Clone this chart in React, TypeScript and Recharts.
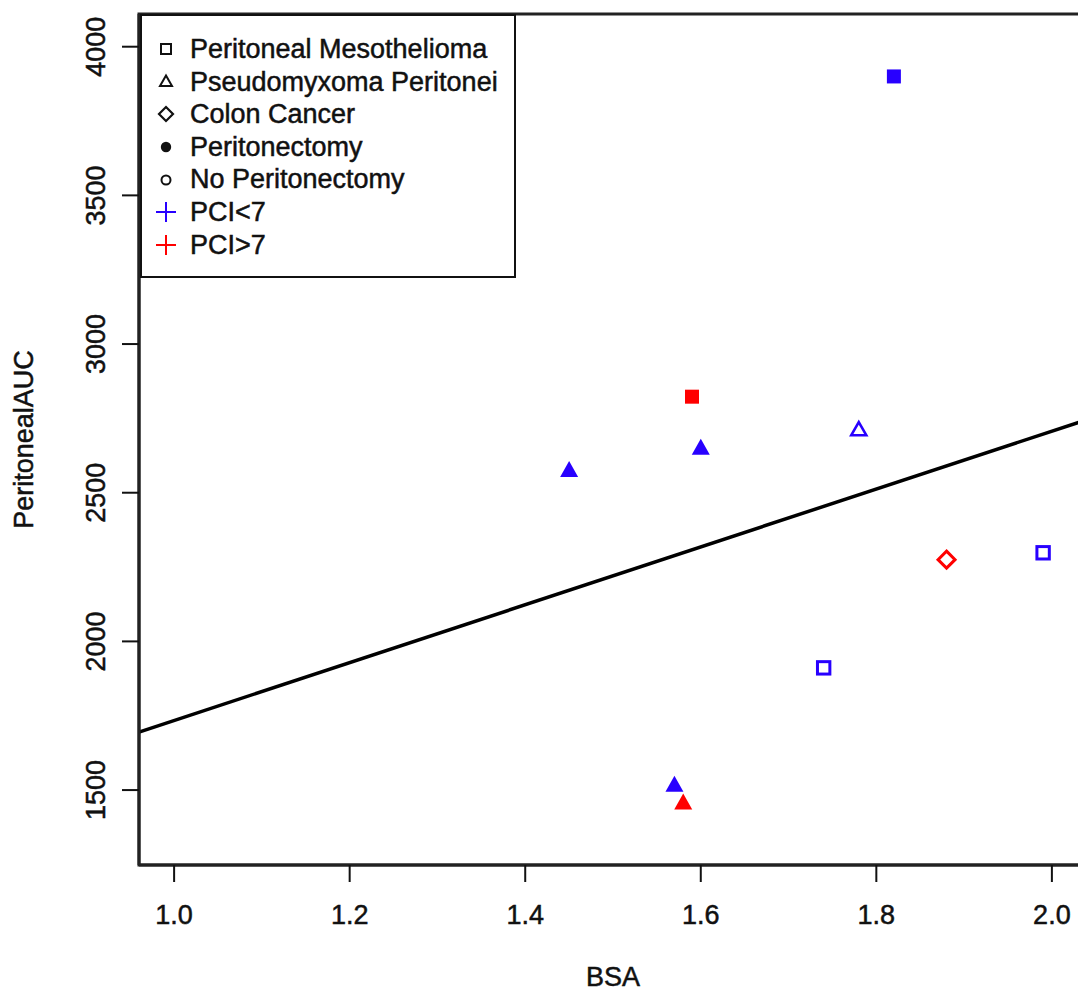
import { ScatterChart, Scatter, XAxis, YAxis, ReferenceLine, ReferenceArea, Legend, Label } from "recharts";

// one entry per patient
const bsa = [1.82, 1.59, 1.45, 1.6, 1.78, 1.99, 1.88, 1.74, 1.57, 1.58];
const auc = [3900, 2823, 2571, 2646, 2708, 2298, 2275, 1911, 1512, 1453];
const diagnosis = ["PM", "PM", "PMP", "PMP", "PMP", "PM", "CC", "PM", "PMP", "PMP"];
const peritonectomy = [true, true, true, true, false, false, false, false, true, true];
const pci = ["<7", ">7", "<7", "<7", "<7", "<7", ">7", "<7", "<7", ">7"];

// fitted regression line, read at the plot edges
const fitX = [0.96, 2.04];
const fitY = [1695, 2746];

const xTicks = [1.0, 1.2, 1.4, 1.6, 1.8, 2.0];
const yTicks = [1500, 2000, 2500, 3000, 3500, 4000];
const xDomain = [0.96, 2.04];
const yDomain = [1248, 4110];

const legendLabels = [
  "Peritoneal Mesothelioma",
  "Pseudomyxoma Peritonei",
  "Colon Cancer",
  "Peritonectomy",
  "No Peritonectomy",
  "PCI<7",
  "PCI>7",
];
const legendSymbols = ["square", "triangle", "diamond", "dot", "circle", "plusBlue", "plusRed"];

const BLUE = "#2800ff";
const RED = "#ff0000";
const FONT = "'Liberation Sans', Arial, Helvetica, sans-serif";
const INK = "#111";

const points = bsa.map((x, i) => ({
  x,
  y: auc[i],
  diagnosis: diagnosis[i],
  filled: peritonectomy[i],
  pci: pci[i],
}));

function PointShape(props: any) {
  const { cx, cy, payload } = props;
  const color = payload.pci === ">7" ? RED : BLUE;
  if (payload.diagnosis === "PM") {
    if (payload.filled) {
      return <rect x={cx - 7} y={cy - 7} width={14} height={14} fill={color} />;
    }
    return <rect x={cx - 6.2} y={cy - 6.2} width={12.4} height={12.4} fill="none" stroke={color} strokeWidth={3} />;
  }
  if (payload.diagnosis === "PMP") {
    const w = 9;
    const h = 16;
    const d = `M${cx},${cy - (2 * h) / 3} L${cx + w},${cy + h / 3} L${cx - w},${cy + h / 3} Z`;
    if (payload.filled) return <path d={d} fill={color} />;
    const w2 = 7.5;
    const h2 = 13;
    const d2 = `M${cx},${cy - (2 * h2) / 3} L${cx + w2},${cy + h2 / 3} L${cx - w2},${cy + h2 / 3} Z`;
    return <path d={d2} fill="none" stroke={color} strokeWidth={2.6} strokeLinejoin="miter" />;
  }
  const r = 8.5;
  return (
    <path
      d={`M${cx},${cy - r} L${cx + r},${cy} L${cx},${cy + r} L${cx - r},${cy} Z`}
      fill={payload.filled ? color : "none"}
      stroke={color}
      strokeWidth={3}
    />
  );
}

const textStyle = { fontFamily: FONT, fontSize: 27, fill: INK, stroke: INK, strokeWidth: 0.5 };

function XTick({ x, y, payload }: any) {
  return (
    <text x={x} y={y + 42} textAnchor="middle" {...textStyle}>
      {Number(payload.value).toFixed(1)}
    </text>
  );
}

function YTick({ x, y, payload }: any) {
  const tx = x - 17;
  return (
    <text x={tx} y={y} transform={`rotate(-90 ${tx} ${y})`} textAnchor="middle" {...textStyle}>
      {payload.value}
    </text>
  );
}

function LegendSymbol({ kind }: { kind: string }) {
  let el;
  if (kind === "square") el = <rect x={7} y={7} width={10} height={10} fill="none" stroke={INK} strokeWidth={2} />;
  else if (kind === "triangle") el = <path d="M12,5.5 L18,16 L6,16 Z" fill="none" stroke={INK} strokeWidth={2} />;
  else if (kind === "diamond") el = <path d="M12,5 L19,12 L12,19 L5,12 Z" fill="none" stroke={INK} strokeWidth={2.2} />;
  else if (kind === "dot") el = <circle cx={12} cy={12} r={5.2} fill={INK} />;
  else if (kind === "circle") el = <circle cx={12} cy={12} r={4.5} fill="none" stroke={INK} strokeWidth={2} />;
  else {
    const c = kind === "plusBlue" ? BLUE : RED;
    el = (
      <g stroke={c} strokeWidth={2}>
        <line x1={2} y1={12} x2={22} y2={12} />
        <line x1={12} y1={2} x2={12} y2={22} />
      </g>
    );
  }
  return (
    <svg width={24} height={24} style={{ display: "block" }}>
      {el}
    </svg>
  );
}

function LegendBox() {
  return (
    <div
      style={{
        boxSizing: "border-box",
        width: 376,
        height: 264,
        border: "2.5px solid #111",
        background: "#fff",
        paddingTop: 17,
        fontFamily: FONT,
        fontSize: 27,
        color: INK,
        WebkitTextStroke: "0.5px #111",
      }}
    >
      {legendLabels.map((label, i) => (
        <div key={label} style={{ display: "flex", alignItems: "center", height: 32.6 }}>
          <div style={{ width: 48, display: "flex", justifyContent: "center" }}>
            <LegendSymbol kind={legendSymbols[i]} />
          </div>
          <span style={{ lineHeight: "32.6px", whiteSpace: "nowrap" }}>{label}</span>
        </div>
      ))}
    </div>
  );
}

export default function App() {
  return (
    <div style={{ position: "absolute", left: 0, top: 0, width: 1078, height: 994, overflow: "hidden", background: "#fff" }}>
      <ScatterChart width={1100} height={994} margin={{ top: 14, right: 13, bottom: 0, left: 0 }}>
        <XAxis
          type="number"
          dataKey="x"
          domain={xDomain}
          ticks={xTicks}
          allowDataOverflow
          height={129}
          tickSize={17}
          tickMargin={0}
          tick={<XTick />}
          axisLine={{ stroke: "#222", strokeWidth: 3 }}
          tickLine={{ stroke: INK, strokeWidth: 2 }}
        >
          <Label
            content={({ viewBox }: any) => (
              <text x={viewBox.x + viewBox.width / 2} y={viewBox.y + 121} textAnchor="middle" {...textStyle}>
                BSA
              </text>
            )}
          />
        </XAxis>
        <YAxis
          type="number"
          dataKey="y"
          domain={yDomain}
          ticks={yTicks}
          allowDataOverflow
          width={139}
          tickSize={17}
          tickMargin={0}
          tick={<YTick />}
          axisLine={{ stroke: "#222", strokeWidth: 3 }}
          tickLine={{ stroke: INK, strokeWidth: 2 }}
        >
          <Label
            content={({ viewBox }: any) => {
              const cy = viewBox.y + viewBox.height / 2;
              return (
                <text x={33} y={cy} transform={`rotate(-90 33 ${cy})`} textAnchor="middle" {...textStyle}>
                  PeritonealAUC
                </text>
              );
            }}
          />
        </YAxis>
        <ReferenceArea
          x1={xDomain[0]}
          x2={xDomain[1]}
          y1={yDomain[0]}
          y2={yDomain[1]}
          fill="none"
          fillOpacity={0}
          stroke="#222"
          strokeWidth={3}
        />
        <ReferenceLine
          segment={[
            { x: fitX[0], y: fitY[0] },
            { x: fitX[1], y: fitY[1] },
          ]}
          stroke="#000"
          strokeWidth={3.5}
        />
        <Scatter data={points} shape={PointShape} isAnimationActive={false} />
        <Legend
          layout="vertical"
          align="center"
          verticalAlign="middle"
          content={() => <LegendBox />}
          wrapperStyle={{ position: "absolute", left: 140, top: 14, width: 376, height: 264, right: "auto", bottom: "auto" }}
        />
      </ScatterChart>
    </div>
  );
}
